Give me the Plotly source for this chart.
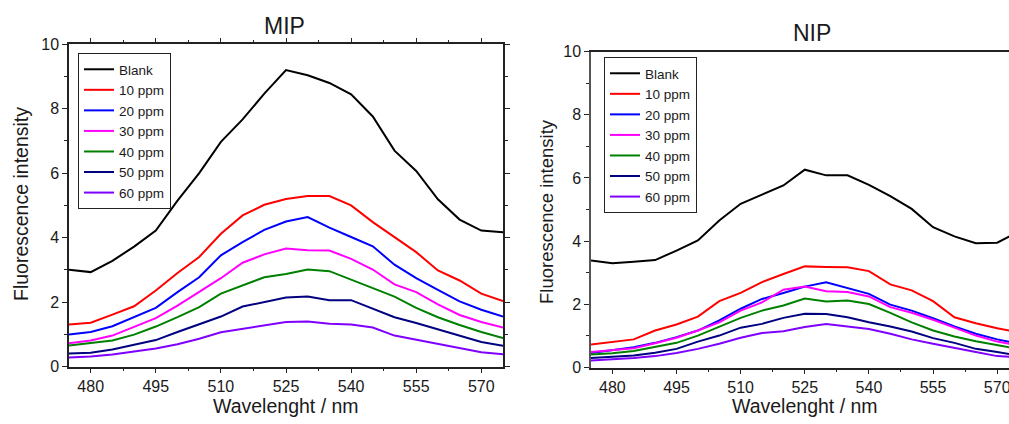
import plotly.graph_objects as go

wavelength = [475, 480, 485, 490, 495, 500, 505, 510, 515, 520, 525,
              530, 535, 540, 545, 550, 555, 560, 565, 570, 575]

series_names = ["Blank", "10 ppm", "20 ppm", "30 ppm", "40 ppm", "50 ppm", "60 ppm"]
series_colors = ["#000000", "#FF0000", "#0000FF", "#FF00FF", "#008000", "#000080", "#8000FF"]

mip_blank = [3.00, 2.93, 3.28, 3.72, 4.22, 5.15, 6.00, 6.97, 7.67, 8.47, 9.20,
             9.04, 8.80, 8.45, 7.76, 6.70, 6.07, 5.19, 4.56, 4.22, 4.17]
mip_10 = [1.30, 1.36, 1.61, 1.87, 2.36, 2.90, 3.40, 4.12, 4.69, 5.02, 5.20,
          5.29, 5.29, 5.00, 4.48, 4.02, 3.55, 2.98, 2.67, 2.26, 2.03]
mip_20 = [0.99, 1.07, 1.25, 1.53, 1.82, 2.31, 2.77, 3.45, 3.86, 4.24, 4.50,
          4.64, 4.31, 4.02, 3.73, 3.16, 2.74, 2.38, 2.02, 1.76, 1.55]
mip_30 = [0.72, 0.81, 0.96, 1.22, 1.50, 1.89, 2.31, 2.74, 3.22, 3.48, 3.66,
          3.61, 3.60, 3.34, 3.01, 2.55, 2.31, 1.93, 1.60, 1.38, 1.21]
mip_40 = [0.65, 0.73, 0.81, 0.99, 1.24, 1.53, 1.84, 2.26, 2.52, 2.77, 2.87,
          3.01, 2.96, 2.69, 2.44, 2.17, 1.82, 1.53, 1.29, 1.07, 0.88]
mip_50 = [0.40, 0.43, 0.53, 0.68, 0.82, 1.07, 1.30, 1.55, 1.86, 2.00, 2.14,
          2.17, 2.06, 2.06, 1.79, 1.53, 1.35, 1.15, 0.94, 0.76, 0.64]
mip_60 = [0.28, 0.31, 0.37, 0.46, 0.56, 0.69, 0.86, 1.06, 1.17, 1.28, 1.38,
          1.40, 1.33, 1.30, 1.21, 0.96, 0.83, 0.69, 0.57, 0.44, 0.38]

nip_blank = [3.39, 3.30, 3.35, 3.40, 3.70, 4.02, 4.65, 5.18, 5.47, 5.76, 6.26,
             6.08, 6.08, 5.78, 5.42, 5.02, 4.44, 4.15, 3.93, 3.95, 4.30]
nip_10 = [0.73, 0.82, 0.89, 1.17, 1.36, 1.61, 2.10, 2.36, 2.70, 2.96, 3.20,
          3.18, 3.17, 3.05, 2.63, 2.44, 2.10, 1.59, 1.40, 1.24, 1.12]
nip_20 = [0.46, 0.54, 0.64, 0.78, 0.96, 1.17, 1.49, 1.86, 2.17, 2.36, 2.56,
          2.70, 2.52, 2.33, 1.99, 1.80, 1.56, 1.30, 1.07, 0.89, 0.75]
nip_30 = [0.49, 0.54, 0.61, 0.77, 0.94, 1.17, 1.43, 1.80, 2.06, 2.46, 2.56,
          2.41, 2.39, 2.25, 1.91, 1.73, 1.51, 1.26, 1.01, 0.82, 0.70]
nip_40 = [0.41, 0.45, 0.52, 0.64, 0.78, 1.01, 1.28, 1.57, 1.80, 1.96, 2.18,
          2.09, 2.12, 2.01, 1.73, 1.43, 1.17, 0.98, 0.83, 0.70, 0.59]
nip_50 = [0.30, 0.33, 0.38, 0.47, 0.59, 0.82, 1.01, 1.26, 1.38, 1.57, 1.70,
          1.69, 1.59, 1.43, 1.30, 1.14, 0.93, 0.78, 0.59, 0.49, 0.38]
nip_60 = [0.22, 0.25, 0.30, 0.36, 0.46, 0.59, 0.75, 0.94, 1.09, 1.15, 1.28,
          1.38, 1.31, 1.22, 1.07, 0.89, 0.75, 0.61, 0.49, 0.36, 0.33]

mip_series = [mip_blank, mip_10, mip_20, mip_30, mip_40, mip_50, mip_60]
nip_series = [nip_blank, nip_10, nip_20, nip_30, nip_40, nip_50, nip_60]

x_ticks = [480, 495, 510, 525, 540, 555, 570]
y_ticks = [0, 2, 4, 6, 8, 10]

FONT = "Arial, Liberation Sans, sans-serif"
W, H = 1009, 424

fig = go.Figure()
for name, color, ys in zip(series_names, series_colors, mip_series):
    fig.add_trace(go.Scatter(x=wavelength, y=ys, mode="lines", name=name,
                             line=dict(color=color, width=2),
                             xaxis="x", yaxis="y", legend="legend"))
for name, color, ys in zip(series_names, series_colors, nip_series):
    fig.add_trace(go.Scatter(x=wavelength, y=ys, mode="lines", name=name,
                             line=dict(color=color, width=2),
                             xaxis="x2", yaxis="y2", legend="legend2"))

def xax(domain, rng, mirror):
    return dict(domain=domain, range=rng, tickvals=x_ticks, ticks="outside",
                ticklen=5, tickwidth=1, tickcolor="#222", showline=True,
                linecolor="#222", linewidth=1.5, mirror=mirror, showgrid=False,
                zeroline=False, automargin=False, ticklabeloverflow="allow",
                tickfont=dict(family=FONT, size=16, color="#1a1a1a"),
                minor=dict(dtick=7.5, tick0=480, ticks="outside", ticklen=3,
                           tickcolor="#222", showgrid=False))

def yax(domain, anchor, mirror, linecolor="#222"):
    return dict(domain=domain, range=[0, 10], tickvals=y_ticks, ticks="outside",
                ticklen=5, tickwidth=1, tickcolor="#222", showline=True,
                linecolor=linecolor, linewidth=1.5, mirror=mirror, showgrid=False,
                zeroline=False, anchor=anchor, automargin=False,
                tickfont=dict(family=FONT, size=16, color="#1a1a1a"),
                minor=dict(dtick=1, tick0=0, ticks="outside", ticklen=3,
                           tickcolor="#222", showgrid=False))

fig.update_layout(
    width=W, height=H, autosize=False,
    margin=dict(l=0, r=0, t=0, b=0, autoexpand=False),
    paper_bgcolor="white", plot_bgcolor="white",
    font=dict(family=FONT, color="#1a1a1a"),
    xaxis=dict(**xax([69 / W, 503 / W], [475, 575], "ticks"), anchor="y"),
    yaxis=yax([1 - 366.5 / H, 1 - 44.3 / H], "x", "ticks"),
    xaxis2=dict(**xax([591 / W, 1.0], [475, 572.76], True), anchor="y2"),
    yaxis2=yax([1 - 367.5 / H, 1 - 51.5 / H], "x2", False, "#555"),
    legend=dict(x=78 / W, y=1 - 53 / H, xanchor="left", yanchor="top",
                bgcolor="white", bordercolor="#222", borderwidth=1,
                font=dict(family=FONT, size=13.5, color="#1a1a1a"),
                tracegroupgap=0, itemwidth=30),
    legend2=dict(x=604 / W, y=1 - 57 / H, xanchor="left", yanchor="top",
                 bgcolor="white", bordercolor="#222", borderwidth=1,
                 font=dict(family=FONT, size=13.5, color="#1a1a1a"),
                 tracegroupgap=0, itemwidth=30),
    showlegend=True,
)

ann_font_t = dict(family=FONT, size=23, color="#1a1a1a")
ann_font = dict(family=FONT, size=19.5, color="#1a1a1a")
annotations = [
    dict(text="MIP", x=284 / W, y=1 - 26 / H, font=ann_font_t),
    dict(text="NIP", x=812 / W, y=1 - 33 / H, font=ann_font_t),
    dict(text="Wavelenght / nm", x=286 / W, y=1 - 406 / H, font=ann_font),
    dict(text="Wavelenght / nm", x=805 / W, y=1 - 406 / H, font=ann_font),
    dict(text="Fluorescence intensity", x=21 / W, y=1 - 204 / H, font=ann_font,
         textangle=-90),
    dict(text="Fluorescence intensity", x=546 / W, y=1 - 212 / H,
         font=dict(family=FONT, size=18.5, color="#1a1a1a"), textangle=-90),
]
for a in annotations:
    a.update(xref="paper", yref="paper", xanchor="center", yanchor="middle",
             showarrow=False)
fig.update_layout(annotations=annotations)

fig.write_html(
    "out.html",
    config={"displayModeBar": False, "responsive": False},
    post_script="document.documentElement.style.margin='0';"
                "document.documentElement.style.overflow='hidden';"
                "document.body.style.margin='0';"
                "document.body.style.padding='0';"
                "document.body.style.overflow='hidden';"
                "var d=document.getElementById('{plot_id}');"
                "d.style.position='fixed';d.style.left='0px';d.style.top='0px';",
)
